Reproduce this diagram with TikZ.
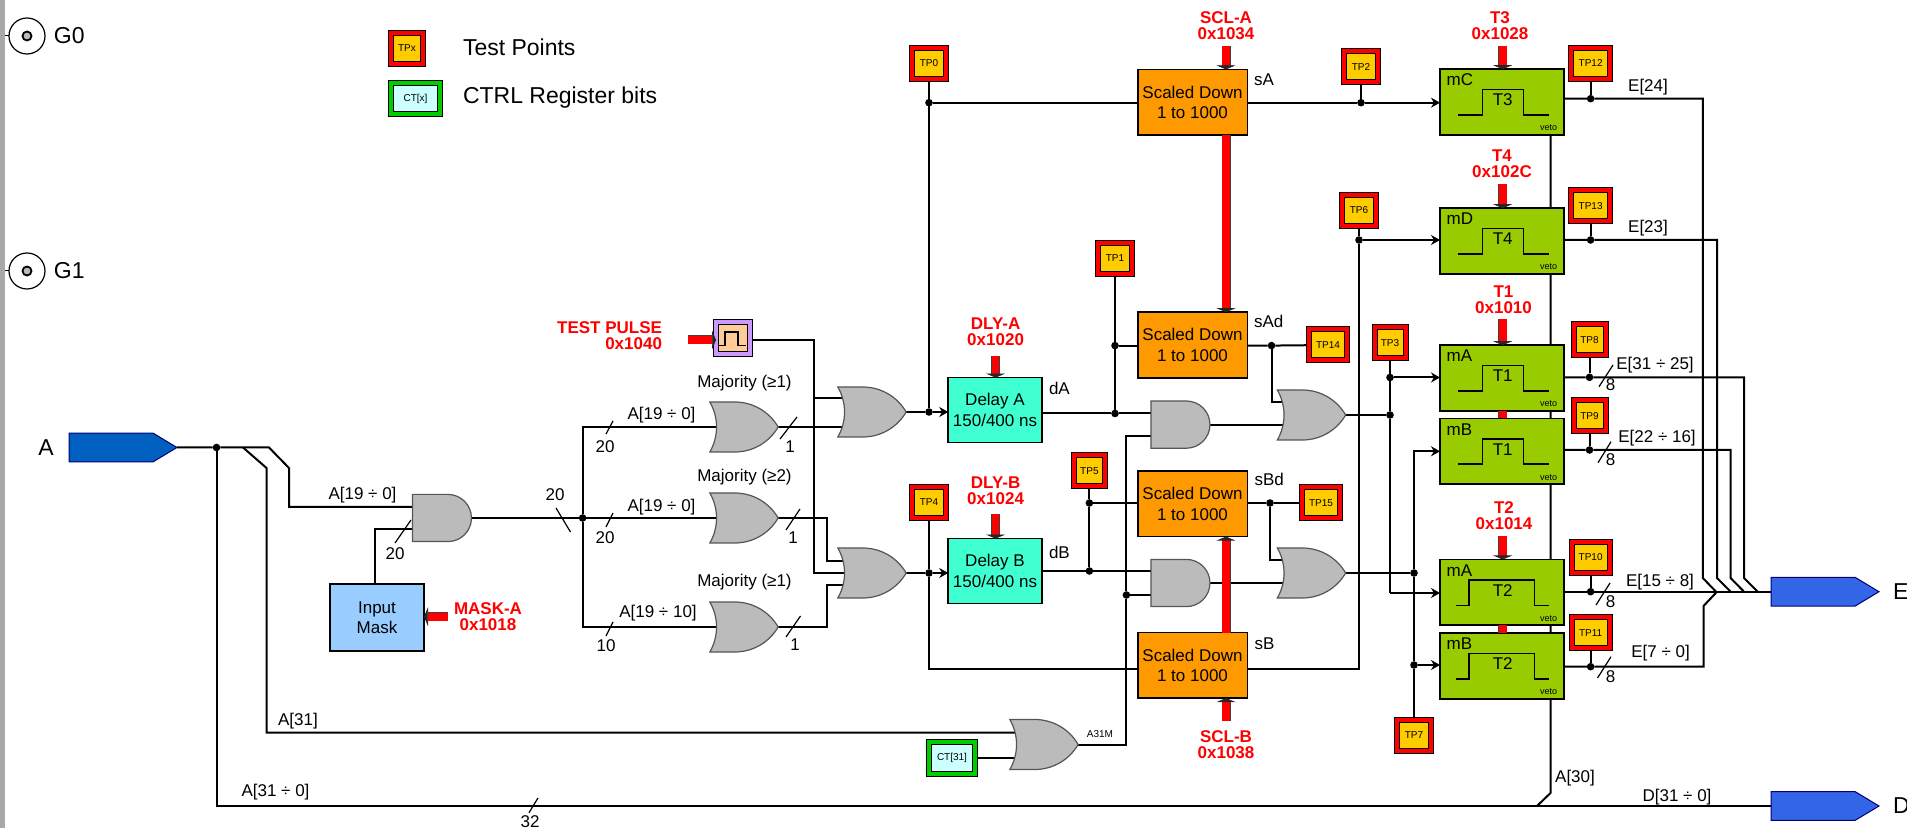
\documentclass[tikz,border=0pt]{standalone}
\usepackage{fontspec}
\setmainfont{Liberation Sans}
\usetikzlibrary{arrows.meta,backgrounds,shapes.gates.logic.US,shapes.symbols}
\definecolor{railgray}{HTML}{A8A8A8}
\definecolor{gategray}{HTML}{BBBBBB}
\definecolor{gateline}{HTML}{555555}
\definecolor{tpyellow}{HTML}{FFCC00}
\definecolor{ctcyan}{HTML}{CCFFFF}
\definecolor{ctgreen}{HTML}{00CC00}
\definecolor{maskblue}{HTML}{99CCFF}
\definecolor{delaycyan}{HTML}{40FFD0}
\definecolor{scaleorange}{HTML}{FF9900}
\definecolor{timergreen}{HTML}{99CC00}
\definecolor{pulsepurple}{HTML}{CC99FF}
\definecolor{pulsepeach}{HTML}{FFCC99}
\definecolor{portdark}{HTML}{0060C0}
\definecolor{portblue}{HTML}{3366E6}
\begin{document}
\begin{tikzpicture}[
 x=.5pt,y=-.5pt,
 every node/.style={font=\fontsize{8.5pt}{10.2pt}\selectfont,inner sep=0pt,outer sep=0pt},
 wire/.style={line width=1pt},
 flow/.style={wire,-{Stealth[length=4.5pt,width=5pt]}},
 slashmark/.style={line width=.6pt},
 junct/.style={circle,fill,minimum size=3.8pt},
 regbar/.style={draw=black!75,double=red,double distance=3.8pt,line width=.35pt,-{Triangle[length=2pt,width=9.5pt,color=black!85]}},
 addr/.style={text=red,font=\fontsize{8.5pt}{8pt}\bfseries,align=center},
 biglabel/.style={font=\fontsize{11.5pt}{13pt}\selectfont},
 bnc/.style={circle,draw,line width=.6pt,minimum size=18pt},
 bncpin/.style={circle,draw,fill=gategray,line width=.9pt,minimum size=4.5pt},
 testpoint/.style={draw=black,double=red,double distance=2pt,line width=.5pt,fill=tpyellow,minimum width=#1 pt,minimum height=15.5pt,font=\fontsize{5pt}{6pt}\selectfont},
 testpoint/.default=17,
 ctrlbit/.style={draw=black,double=ctgreen,double distance=2pt,line width=.5pt,fill=ctcyan,minimum width=#1 pt,minimum height=15.8pt,font=\fontsize{5pt}{6pt}\selectfont},
 scaler/.style={draw,line width=.8pt,fill=scaleorange,minimum width=54.8pt,minimum height=32.8pt,align=center},
 delaybox/.style={draw,line width=.8pt,fill=delaycyan,minimum width=46.8pt,minimum height=32.4pt,align=center},
 timer/.style={draw,line width=.8pt,fill=timergreen,minimum width=62pt,minimum height=32.8pt},
 port/.style={signal,signal to=east,signal pointer angle=62,anchor=west,draw=black!55!blue,line width=.5pt,minimum width=54pt,minimum height=14.4pt},
 andgate/.style={and gate US,logic gate inputs=nn,logic gate input sep=2pt,draw=gateline,fill=gategray,line width=.6pt,minimum width=29.5pt,minimum height=23pt},
 orgate/.style={or gate US,logic gate inputs=nn,logic gate input sep=2pt,draw=gateline,fill=gategray,line width=.6pt,minimum width=33pt,minimum height=25pt}]
 % rail, inputs G0 and G1, legend
 \fill[railgray] (0,0) rectangle (4.5,828);
 \useasboundingbox (0,0) rectangle (1907,828);
 \foreach \nm/\yy in {G0/36,G1/271}{
  \node[bnc] (\nm) at (27,\yy) {};
  \node[bncpin] (\nm pin) at (\nm) {};
  \coordinate (\nm tick) at (5,\yy);
  \draw[line width=.5pt] (\nm tick) -- (\nm);
  \node[biglabel,anchor=west] (\nm lab) at (54,\yy) {\nm};
 }
 \node[testpoint=16] (tpLegend) at (407,48.5) {TPx};
 \node[ctrlbit=24.5] (ctLegend) at (415.5,98.5) {CT[x]};
 \node[biglabel,anchor=west] (tpText) at (463,47) {Test Points};
 \node[biglabel,anchor=west] (ctText) at (463,98) {CTRL Register bits};
 % ports
 \node[port,fill=portdark] (portA) at (69,447.5) {};
 \node[port,fill=portblue] (portE) at (1771,591.7) {};
 \node[port,fill=portblue] (portD) at (1771,806) {};
 \node[biglabel] (portAlab) at (46,448) {A};
 \node[biglabel,anchor=west] (portElab) at (1893,591.7) {E};
 \node[biglabel,anchor=west] (portDlab) at (1893,806) {D};
 % mask and gates
 \node[draw,line width=.8pt,fill=maskblue,minimum width=47pt,minimum height=33.5pt,align=center] (mask) at (377,617.5) {Input\\Mask};
 \node[andgate] (andIn) at (440,518) {};
 \node[orgate] (maj1) at (739,427) {};
 \node[orgate] (maj2) at (739,518) {};
 \node[orgate] (maj3) at (739,627) {};
 \node[orgate] (orA) at (867,412) {};
 \node[orgate] (orB) at (867,573) {};
 \node[orgate] (orVeto) at (1039,744.5) {};
 \node[orgate] (orC) at (1306.5,415) {};
 \node[orgate] (orD) at (1306.5,573) {};
 \node[andgate] (andA) at (1178.5,424.6) {};
 \node[andgate] (andB) at (1178.5,583) {};
 % test pulse generator
 \node[draw=black,double=pulsepurple,double distance=2pt,line width=.5pt,fill=pulsepeach,minimum width=17pt,minimum height=15.8pt] (pulseBox) at (733,338) {};
 \draw[line width=.8pt] (719,345.5) -- (725,345.5) -- (725,332) -- (738,332) -- (738,345.5) -- (746,345.5);
 % delay and scale-down blocks
 \node[delaybox] (delA) at (995,410) {Delay A\\150/400 ns};
 \node[delaybox] (delB) at (995,571) {Delay B\\150/400 ns};
 \node[scaler] (scA) at (1192.5,102.2) {Scaled Down\\1 to 1000};
 \node[scaler] (scAd) at (1192.5,345) {Scaled Down\\1 to 1000};
 \node[scaler] (scBd) at (1192.5,503.8) {Scaled Down\\1 to 1000};
 \node[scaler] (scB) at (1192.5,665.3) {Scaled Down\\1 to 1000};
 % timers
 \foreach \nm/\ytop/\mode/\tlab/\wide in {tmC/69/mC/T3/0,tmD/208/mD/T4/0,tmAa/345/mA/T1/0,tmBa/418.3/mB/T1/0,tmAb/559.3/mA/T2/1,tmBb/633/mB/T2/1}{
  \begin{scope}[shift={(1440,\ytop)}]
   \node[timer] (\nm) at (62,33) {};
   \node[anchor=west] (\nm mode) at (6.7,11) {\mode};
   \node (\nm name) at (62.7,31) {\tlab};
   \node[font=\fontsize{4.5pt}{5pt}\selectfont] (\nm veto) at (108.5,59) {veto};
   \ifnum\wide=1
    \draw[line width=.8pt] (16,46) -- (29,46) -- (29,20.5) -- (94.5,20.5) -- (94.5,46) -- (109,46);
   \else
    \draw[line width=.8pt] (18,46) -- (42.5,46) -- (42.5,20.5) -- (83.5,20.5) -- (83.5,46) -- (109,46);
   \fi
  \end{scope}
 }
 % test points and ctrl bit
 \foreach \nm/\xx/\yy/\tpw in {0/929/63.3/17,1/1115/258.4/17,2/1361/66.7/17,3/1390/343/15.5,4/929/502.5/17,5/1089.4/470.7/15.5,6/1359/210.5/17,7/1414/735/17,8/1589.5/340/16,9/1589.5/416/16,10/1590.6/557.3/19,11/1590.6/632.7/19,12/1590.6/63.3/19.3,13/1590.6/206/19.3,14/1328/345/19,15/1321/503/19}{
  \node[testpoint=\tpw] (tp\nm) at (\xx,\yy) {TP\nm};
 }
 \node[ctrlbit=23.3] (ct31) at (952,758) {CT[31]};
 % junctions
 \foreach \nm/\xx/\yy in {jIn/216.5/447.5,jBus/582.6/518,jOrA/929/412,jOrB/929/573,jTP0/929/102.7,jTP1/1115/345.6,jDa/1115/413.5,jTP5/1089.4/503,jDb/1089.4/571,jAndB/1126.4/595,jSAd/1271.5/345.6,jSBd/1270/503,jTP2/1361/102.7,jTP6/1359/240,jTP3/1390/377.5,jOrC/1390/415,jOrD/1414/573,jTP7/1414/665,jTP12/1590.6/98.7,jTP13/1590.6/240,jTP8/1589.5/377.3,jTP9/1589.5/450,jTP10/1590.6/591.7,jTP11/1590.6/666.7}{
  \node[junct] (\nm) at (\xx,\yy) {};
 }
 % bends, free ends, gate inputs
 \foreach \nm/\xx/\yy in {brMask/269/447.5,kMask/289/468,brVeto/243/447.5,kVeto/266.5/468,busB/827/561.5,busC/827/584.5,busTop/814/340,lnB/1192.5/669.4,kTmA/1390/593,vetoTop/1550.5/135,vetoKink/1550.5/793,vetoTap/1537/806,kE12/1702.8/578,eE12/1716/591.7,kE13/1717/578,eE13/1730.6/591.7,kE9/1730.6/578,eE9/1744/591.7,kE8/1744/578,eE8/1757.7/591.7,kE11/1703.5/606,eE11/1717/591.7,inAnd1/440/507,inAnd2/440/529,inOrA1/867/397.6,inOrA2/867/427,inOrB1/867/561.5,inOrB2/867/573,inOrB3/867/584.5,inVeto1/1039/732.7,inVeto2/1039/758,inOrC1/1306/402,inOrC2/1306/424.6,inOrD1/1306/560,inOrD2/1306/583,inAndA1/1178/413.5,inAndA2/1178/435.7,inAndB1/1178/571,inAndB2/1178/595}{
  \coordinate (\nm) at (\xx,\yy);
 }
 % wires behind the blocks
 \begin{scope}[on background layer]
  \draw[wire] (portA.east) -- (jIn) -- (brMask) -- (kMask) |- (inAnd1);
  \draw[wire] (brVeto) -- (kVeto) |- (inVeto1);
  \draw[wire] (jIn) |- (portD.west);
  \draw[wire] (mask.north -| 375,0) |- (inAnd2);
  \draw[wire] (andIn.output) -- (jBus) -- (maj2.center);
  \draw[wire] (maj1.center) -| (jBus) |- (maj3.center);
  \draw[wire] (maj1.output) -- (inOrA2);
  \draw[wire] (maj2.output) -| (busB) -- (inOrB1);
  \draw[wire] (maj3.output) -| (busC) -- (inOrB3);
  \draw[wire] (pulseBox.east |- busTop) -- (busTop) |- (inOrB2);
  \draw[wire] (busTop |- inOrA1) -- (inOrA1);
  \draw[wire] (orA.output) -- (jOrA);
  \draw[flow] (jOrA) -- (delA.west |- jOrA);
  \draw[wire] (orB.output) -- (jOrB);
  \draw[flow] (jOrB) -- (delB.west |- jOrB);
  \draw[wire] (tp0) -- (jTP0) -- (jOrA);
  \draw[wire] (tp4) -- (jOrB) |- (scB.west |- lnB);
  \draw[wire] (jTP0) -- (scA.west |- jTP0);
  \draw[wire] (tp1) -- (jTP1) -- (jDa);
  \draw[wire] (jTP1) -- (scAd.west |- jTP1);
  \draw[wire] (delA.east |- jDa) -- (jDa) -- (inAndA1);
  \draw[wire] (tp5) -- (jTP5) -- (jDb);
  \draw[wire] (jTP5) -- (scBd.west |- jTP5);
  \draw[wire] (delB.east |- jDb) -- (jDb) -- (inAndB1);
  \draw[wire] (orVeto.output) -| (jAndB) -- (inAndB2);
  \draw[wire] (jAndB) |- (inAndA2);
  \draw[wire] (ct31.east) -- (inVeto2);
  \draw[wire] (scAd.east |- jSAd) -- (jSAd) -- (tp14);
  \draw[wire] (jSAd) |- (inOrC1);
  \draw[wire] (scBd.east |- jSBd) -- (jSBd) -- (tp15);
  \draw[wire] (jSBd) |- (inOrD1);
  \draw[wire] (andA.output) -- (inOrC2);
  \draw[wire] (andB.output) -- (inOrD2);
  \draw[wire] (orC.output) -- (jOrC);
  \draw[wire] (orD.output) -- (jOrD);
  \draw[wire] (scA.east |- jTP2) -- (jTP2) -- (tp2);
  \draw[flow] (jTP2) -- (tmC.west |- jTP2);
  \draw[wire] (scB.east |- lnB) -| (jTP6) -- (tp6);
  \draw[flow] (jTP6) -- (tmD.west |- jTP6);
  \draw[wire] (tp3) -- (jTP3) -- (jOrC) -- (kTmA);
  \draw[flow] (jTP3) -- (tmAa.west |- jTP3);
  \draw[flow] (kTmA) -- (tmAb.west |- kTmA);
  \draw[wire] (tp7) -- (jTP7) -- (jOrD);
  \draw[flow] (jOrD) |- (tmBa.west);
  \draw[flow] (jTP7) -- (tmBb.west |- jTP7);
  \draw[wire] (vetoTop) -- (vetoKink) -- (vetoTap);
  % timer outputs into the E bus
  \foreach \tp/\tm in {12/tmC,13/tmD,8/tmAa,9/tmBa}{
   \draw[wire] (\tm.east |- jTP\tp) -- (jTP\tp) -| (kE\tp) -- (eE\tp);
   \draw[wire] (tp\tp) -- (jTP\tp);
  }
  \draw[wire] (tmBb.east |- jTP11) -- (jTP11) -| (kE11) -- (eE11);
  \draw[wire] (tp11) -- (jTP11);
  \draw[wire] (tmAb.east |- jTP10) -- (jTP10) -- (portE.west);
  \draw[wire] (tp10) -- (jTP10);
 \end{scope}
 % bus width ticks
 \foreach \nm/\xa/\ya/\xb/\yb/\lx/\ly/\lab in {wMask/395/543/411/520/395/554/20,wOut/556/508/570.5/532/555/495/20,wMa/606/434/613/421/605/447/20,wMb/606/527/613/513/605/538/20,wMc/606/636/613/622/606/646/10,wRa/780/439/797/417/790/447/1,wRb/786/530/800/509/793/538/1,wRc/786/637/800.5/616/795/645/1,wBus/529/812.7/538/798/530/821.7/32,wE8/1599/386.7/1613/365/1610.5/385/8,wE9/1598/462.7/1611/441.7/1610.5/460/8,wE10/1596/605/1610/583/1610.5/601.7/8,wE11/1597.5/678/1611/656.7/1610.5/676.7/8}{
  \coordinate (\nm a) at (\xa,\ya);
  \coordinate (\nm b) at (\xb,\yb);
  \draw[slashmark] (\nm a) -- (\nm b);
  \node (\nm lab) at (\lx,\ly) {\lab};
 }
 % signal names
 \foreach \nm/\xx/\yy/\txt in {lbIn/362.5/495/{A[19 ÷ 0]},lbMa/661.5/415/{A[19 ÷ 0]},lbMb/661.5/507/{A[19 ÷ 0]},lbMc/658/613/{A[19 ÷ 10]},lbA31/298/721/{A[31]},lbBus/275.5/791.7/{A[31 ÷ 0]},lbMajA/744.5/383.5/{Majority (≥1)},lbMajB/744.5/477/{Majority (≥2)},lbMajC/744.5/582/{Majority (≥1)},lbE24/1648/86.7/{E[24]},lbE23/1648/228/{E[23]},lbE31/1655/365/{E[31 ÷ 25]},lbE22/1657/438/{E[22 ÷ 16]},lbE15/1660/581.7/{E[15 ÷ 8]},lbE7/1660.5/653/{E[7 ÷ 0]},lbD/1677/796.7/{D[31 ÷ 0]},lbA30/1575/778/{A[30]}}{
  \node (\nm) at (\xx,\yy) {\txt};
 }
 \foreach \nm/\xx/\yy/\txt in {lbsA/1254/80/sA,lbsAd/1254/321.7/sAd,lbsBd/1254.5/479/sBd,lbsB/1254.5/643.4/sB,lbdA/1049/388/dA,lbdB/1049/552/dB}{
  \node[anchor=west] (\nm) at (\xx,\yy) {\txt};
 }
 \node[font=\fontsize{5pt}{6pt}\selectfont] (lbA31M) at (1100,734) {A31M};
 % register arrows and addresses
 \foreach \nm/\xx/\ya/\tgt in {rSclA/1226/45.7/scA.north,rDlyA/995.6/355.6/delA.north,rDlyB/995.6/514/delB.north,rT3/1502.7/45.7/tmC.north,rT4/1502.7/184.3/tmD.north,rT1/1502.7/319.3/tmAa.north,rT2/1502.7/536/tmAb.north,rSclB/1226/721/scB.south}{
  \coordinate (\nm) at (\xx,\ya);
  \draw[regbar] (\nm) -- (\nm |- \tgt);
 }
 \draw[regbar] (rSclA |- scA.south) -- (rSclA |- scAd.north);
 \draw[regbar] (rSclB |- scB.north) -- (rSclB |- scBd.south);
 \draw[draw=black!75,double=red,double distance=3.8pt,line width=.35pt] (rT1 |- tmAa.south) -- (rT1 |- tmBa.north);
 \draw[draw=black!75,double=red,double distance=3.8pt,line width=.35pt] (rT2 |- tmAb.south) -- (rT2 |- tmBb.north);
 \coordinate (rPulse) at (688,340);
 \draw[regbar] (rPulse) -- (pulseBox.west |- rPulse);
 \coordinate (rMask) at (448,616.7);
 \draw[regbar] (rMask) -- (mask.east |- rMask);
 \foreach \nm/\xx/\yy/\txt in {lbSclA/1226/26/{SCL-A\\0x1034},lbDlyA/995.6/332/{DLY-A\\0x1020},lbDlyB/995.6/491/{DLY-B\\0x1024},lbSclB/1226/744.5/{SCL-B\\0x1038},lbT3/1500/25.5/{T3\\0x1028},lbT4/1502/164/{T4\\0x102C},lbT1/1503.5/300/{T1\\0x1010},lbT2/1504/515.5/{T2\\0x1014},lbMask/488/617/{MASK-A\\0x1018}}{
  \node[addr] (\nm) at (\xx,\yy) {\txt};
 }
 \node[addr,align=right,anchor=east] (lbPulse) at (662,336) {TEST PULSE\\0x1040};
\end{tikzpicture}
\end{document}
